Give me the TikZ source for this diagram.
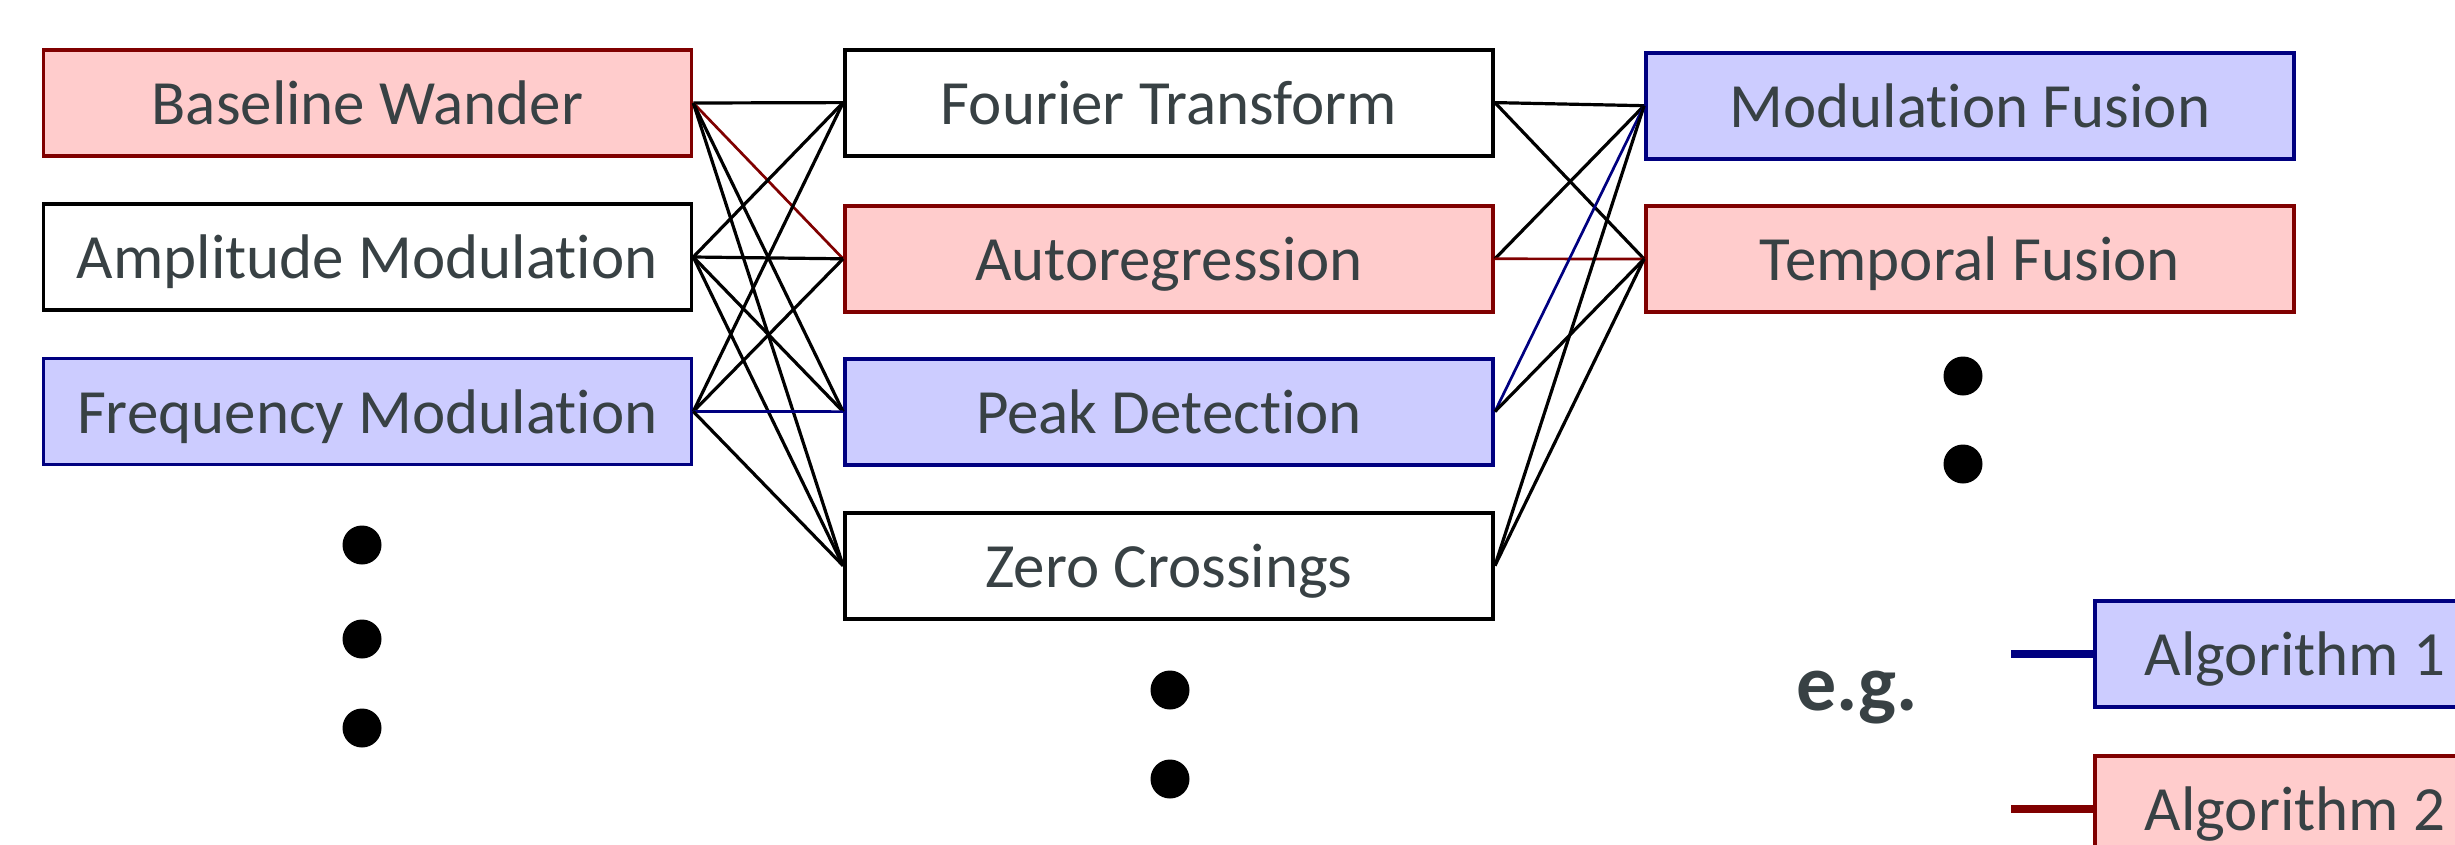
\documentclass[tikz,border=0pt]{standalone}
\usepackage{fontspec}
\setmainfont{Carlito}[Ligatures={CommonOff,ContextualOff}]
\definecolor{pinkfill}{HTML}{FFCCCC}
\definecolor{redline}{HTML}{800000}
\definecolor{bluefill}{HTML}{CCCCFF}
\definecolor{blueline}{HTML}{000080}
\definecolor{txt}{HTML}{384144}
\tikzset{
  box/.style={draw, line width=3.8pt, minimum width=648pt, minimum height=106pt,
    inner sep=0pt, text height=43pt, text depth=0pt, text=txt,
    font=\fontsize{63}{75}\selectfont},
  whitebox/.style={box, fill=white, draw=black},
  pinkbox/.style={box, fill=pinkfill, draw=redline},
  bluebox/.style={box, fill=bluefill, draw=blueline},
  conn/.style={line width=3.2pt, black},
  redconn/.style={line width=2.7pt, redline},
  blueconn/.style={line width=2.7pt, blueline},
  legline/.style={line width=8pt},
  dotmark/.style={circle, fill=black, inner sep=0pt, minimum size=39pt}
}
\begin{document}
\begin{tikzpicture}[x=1pt,y=-1pt]
\useasboundingbox (0,0) rectangle (2455,844);
% left column
\node[pinkbox]  (BW) at (367.4,103)   {Baseline Wander};
\node[whitebox] (AM) at (367.4,257)   {Amplitude Modulation};
\node[bluebox]  (FM) at (367.4,411.5) {Frequency Modulation};
% middle column
\node[whitebox] (FT) at (1169,102.6) {Fourier Transform};
\node[pinkbox]  (AR) at (1169,258.8) {Autoregression};
\node[bluebox]  (PD) at (1169,411.6) {Peak Detection};
\node[whitebox] (ZC) at (1169,565.7) {Zero Crossings};
% right column
\node[bluebox] (MF) at (1970,105.7) {Modulation Fusion};
\node[pinkbox] (TF) at (1970,259)   {Temporal Fusion};
% legend
\node[bluebox, minimum width=400pt] (A1) at (2295,654) {Algorithm 1};
\node[pinkbox, minimum width=400pt] (A2) at (2295,809) {Algorithm 2};
\node[anchor=base, text=txt, font=\fontsize{80}{90}\selectfont\bfseries] (eg) at (1857,710) {e.g.};
\coordinate (L1) at (2011,654);
\coordinate (L2) at (2011,809);
\draw[legline, blueline] (L1) -- (A1.west);
\draw[legline, redline] (L2) -- (A2.west);
% dots
\node[dotmark] (d1) at (362,545) {};
\node[dotmark] (d2) at (362,639) {};
\node[dotmark] (d3) at (362,728) {};
\node[dotmark] (d4) at (1170,690) {};
\node[dotmark] (d5) at (1170,779) {};
\node[dotmark] (d6) at (1963,376) {};
\node[dotmark] (d7) at (1963,464) {};
% connectors left -> middle
\draw[conn] (BW.east) -- (FT.west);
\draw[redconn] (BW.east) -- (AR.west);
\draw[conn] (BW.east) -- (PD.west);
\draw[conn] (BW.east) -- (ZC.west);
\draw[conn] (AM.east) -- (FT.west);
\draw[conn] (AM.east) -- (AR.west);
\draw[conn] (AM.east) -- (PD.west);
\draw[conn] (AM.east) -- (ZC.west);
\draw[conn] (FM.east) -- (FT.west);
\draw[conn] (FM.east) -- (AR.west);
\draw[blueconn] (FM.east) -- (PD.west);
\draw[conn] (FM.east) -- (ZC.west);
% connectors middle -> right
\draw[conn] (FT.east) -- (MF.west);
\draw[conn] (FT.east) -- (TF.west);
\draw[conn] (AR.east) -- (MF.west);
\draw[redconn] (AR.east) -- (TF.west);
\draw[blueconn] (PD.east) -- (MF.west);
\draw[conn] (PD.east) -- (TF.west);
\draw[conn] (ZC.east) -- (MF.west);
\draw[conn] (ZC.east) -- (TF.west);
\end{tikzpicture}
\end{document}
